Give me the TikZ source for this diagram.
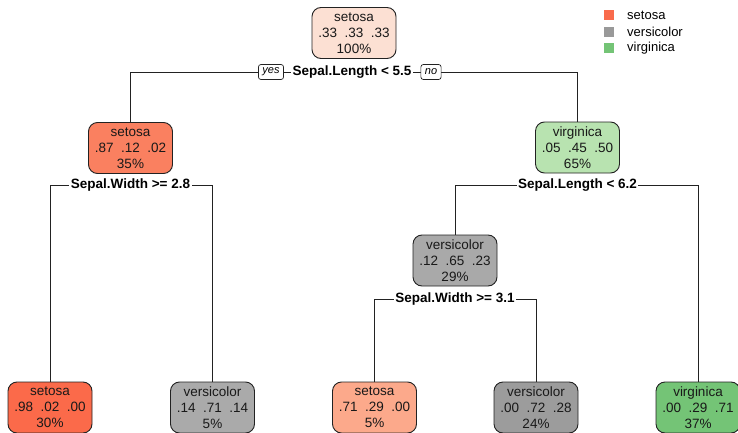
\documentclass[tikz,border=0pt]{standalone}
\usepackage{fontspec}
\setmainfont{Liberation Sans}
\usetikzlibrary{backgrounds}
\definecolor{cRoot}{HTML}{FCE0D3}
\definecolor{cSetA}{HTML}{FA8060}
\definecolor{cSetB}{HTML}{FB6A4A}
\definecolor{cSetC}{HTML}{FCA98B}
\definecolor{cVerA}{HTML}{A9A9A9}
\definecolor{cVerB}{HTML}{AAAAAA}
\definecolor{cVerC}{HTML}{9C9C9C}
\definecolor{cVirA}{HTML}{B8E3B0}
\definecolor{cVirB}{HTML}{74C476}
\definecolor{cLegSet}{HTML}{F96B4C}
\definecolor{cLegVer}{HTML}{999999}
\definecolor{cLegVir}{HTML}{74C476}
\definecolor{cLine}{HTML}{222222}
\begin{document}
\begin{tikzpicture}[x=1pt,y=-1pt,
  tn/.style={draw=cLine, line width=0.9pt, rounded corners=9pt, minimum width=84pt, minimum height=51pt, inner sep=0pt, align=center, text=black!90, font=\fontsize{13.5}{16}\selectfont},
  sl/.style={fill=white, inner xsep=1.5pt, inner ysep=1pt, font=\bfseries\fontsize{13.5}{16}\selectfont},
  yn/.style={draw=cLine, line width=0.7pt, fill=white, rounded corners=2.5pt, font=\itshape\fontsize{11}{12}\selectfont, inner xsep=4pt, inner ysep=1.5pt, minimum height=15pt},
  edge/.style={line width=0.8pt, draw=cLine},
  legbox/.style={minimum size=10pt, inner sep=0pt},
  legtxt/.style={anchor=west, inner sep=0pt, font=\fontsize{13}{15}\selectfont}]
\useasboundingbox (0,0) rectangle (738,433);
% tree nodes
\node[tn, fill=cRoot] (root) at (354,33) {setosa\\.33\ \ .33\ \ .33\\100\%};
\node[tn, fill=cSetA] (n2) at (130.5,148) {setosa\\.87\ \ .12\ \ .02\\35\%};
\node[tn, fill=cVirA] (n3) at (577.5,147.5) {virginica\\.05\ \ .45\ \ .50\\65\%};
\node[tn, fill=cVerA] (n6) at (455,260.5) {versicolor\\.12\ \ .65\ \ .23\\29\%};
\node[tn, fill=cSetB] (n4) at (50,407.5) {setosa\\.98\ \ .02\ \ .00\\30\%};
\node[tn, fill=cVerB] (n5) at (212.5,407.5) {versicolor\\.14\ \ .71\ \ .14\\5\%};
\node[tn, fill=cSetC] (n12) at (374.5,407.5) {setosa\\.71\ \ .29\ \ .00\\5\%};
\node[tn, fill=cVerC] (n13) at (536,407.5) {versicolor\\.00\ \ .72\ \ .28\\24\%};
\node[tn, fill=cVirB] (n7) at (698,407.5) {virginica\\.00\ \ .29\ \ .71\\37\%};
% split labels
\node[sl] (s1) at (352,72) {Sepal.Length < 5.5};
\node[yn] (yes) at (271,72) {yes};
\node[yn] (no) at (431,72) {no};
\node[sl] (s2) at (130.5,185) {Sepal.Width >= 2.8};
\node[sl] (s3) at (577.5,185) {Sepal.Length < 6.2};
\node[sl] (s6) at (455,299) {Sepal.Width >= 3.1};
% connectors
\begin{scope}[on background layer]
\draw[edge] (n2.north) -- (n2.north |- s1) -- (n3.north |- s1) -- (n3.north);
\draw[edge] (n4.north) -- (n4.north |- s2) -- (n5.north |- s2) -- (n5.north);
\draw[edge] (n6.north) -- (n6.north |- s3) -- (n7.north |- s3) -- (n7.north);
\draw[edge] (n12.north) -- (n12.north |- s6) -- (n13.north |- s6) -- (n13.north);
\end{scope}
% legend
\node[legbox, fill=cLegSet] (k1) at (608.5,15.5) {};
\node[legbox, fill=cLegVer] (k2) at (608.5,32) {};
\node[legbox, fill=cLegVir] (k3) at (608.5,48.5) {};
\node[legtxt] (t1) at (627,15.5) {setosa};
\node[legtxt] (t2) at (627,32) {versicolor};
\node[legtxt] (t3) at (627,48.5) {virginica};
\end{tikzpicture}
\end{document}
